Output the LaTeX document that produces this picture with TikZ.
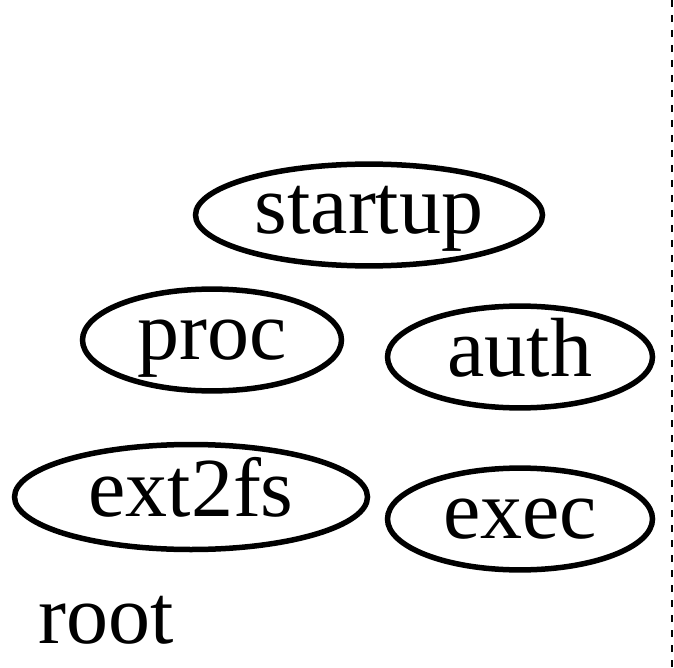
\documentclass[tikz,border=0pt]{standalone}
\usepackage{fontspec}
\setmainfont{Liberation Serif}
\usetikzlibrary{shapes.geometric}
\begin{document}
\begin{tikzpicture}[x=1pt,y=-1pt,
  oval/.style={ellipse, draw, line width=5.5pt, inner sep=0pt,
    font=\fontsize{84}{96}\selectfont, text height=55pt, text depth=17pt},
  plain/.style={inner sep=0pt, font=\fontsize{84}{96}\selectfont, anchor=base west}]
\useasboundingbox (0,0) rectangle (674,668);
\node[oval, minimum width=347pt, minimum height=100pt] (startup) at (369,215) {startup};
\node[oval, minimum width=259pt, minimum height=93pt] (proc) at (212,340) {proc};
\node[oval, minimum width=265pt, minimum height=97pt] (auth) at (520,357) {auth};
\node[oval, minimum width=353pt, minimum height=105pt] (ext2fs) at (191,497) {ext2fs};
\node[oval, minimum width=265pt, minimum height=93pt] (exec) at (520,519) {exec};
\node[plain] (root) at (38,643) {root};
\coordinate (dtop) at (672,0);
\coordinate (dbot) at (672,668);
\draw[line width=2.5pt, dash pattern=on 7pt off 8pt] (dtop) -- (dbot);
\end{tikzpicture}
\end{document}
